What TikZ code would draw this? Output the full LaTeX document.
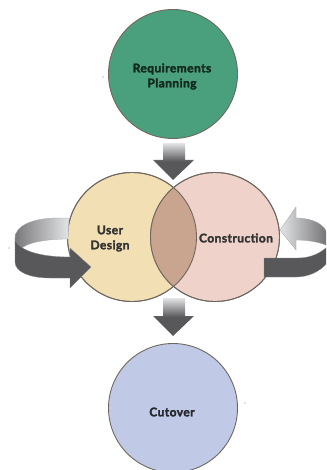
\documentclass[tikz,border=0pt]{standalone}
\usepackage{fontspec}
\setmainfont[LetterSpace=3.5,BoldFeatures={FakeBold=2.2,LetterSpace=3.5}]{Lato}
\definecolor{greenc}{HTML}{4AA07D}
\definecolor{yellowc}{HTML}{F3DFB4}
\definecolor{pinkc}{HTML}{EFD3CA}
\definecolor{bluec}{HTML}{C0CAE6}
\definecolor{lensc}{HTML}{C9A58F}
\definecolor{rimc}{HTML}{6E6860}
\definecolor{darkc}{HTML}{58585B}
\definecolor{lightc}{HTML}{E4E5E7}
\tikzset{
  phase/.style={circle,draw=rimc,line width=0.9pt,inner sep=0pt,minimum size=129pt,align=center},
  label/.style={font=\bfseries\fontsize{12pt}{15pt}\selectfont,align=center,text=#1},
  label/.default={black!80},
  downarrow/.style={top color=lightc,bottom color=darkc,middle color=darkc},
  solidarrow/.style={fill=darkc,draw=black!45,line width=0.3pt},
  speck/.style={fill=black!50,circle,inner sep=0.5pt}
}
\begin{document}
\begin{tikzpicture}[x=1pt,y=-1pt]
\useasboundingbox (0,0) rectangle (326,470);
\fill[white] (0,0) rectangle (326,470);
\begin{scope}
\clip (0,0) rectangle (326,470);
% circles
\node[phase,fill=greenc] (req) at (173,74) {};
\node[phase,fill=yellowc] (ud) at (132,237) {};
\node[phase,fill=pinkc] (con) at (215,237) {};
\begin{scope}
  \clip (132,237) circle (64.5);
  \fill[lensc] (215,237) circle (64.5);
\end{scope}
\draw[rimc,line width=0.9pt] (132,237) circle (64.5);
\draw[rimc,line width=0.9pt] (215,237) circle (64.5);
\node[phase,fill=bluec] (cut) at (173,408) {};
% vertical arrows
\path[downarrow] (163,143) -- (185,143) -- (185,160) -- (194,160) -- (173,180) -- (153,160) -- (163,160) -- cycle;
\path[downarrow] (163,298) -- (185,298) -- (185,316) -- (194,316) -- (173,336) -- (153,316) -- (163,316) -- cycle;
% left loop
\path[left color=darkc!80,right color=lightc,draw=black!35,line width=0.3pt]
  (69,218) -- (58,218) .. controls (32,218) and (15,226) .. (15,238)
  -- (15,245) .. controls (15,247) and (18,249) .. (21,249)
  .. controls (26,243) and (45,239) .. (68,239) -- cycle;
\path[solidarrow]
  (15,238) .. controls (15,246) and (30,257) .. (70,257) -- (70,248) -- (91,267) -- (70,288) -- (70,278)
  -- (50,278) .. controls (30,278) and (15,272) .. (15,262) -- cycle;
% right loop
\path[left color=lightc,right color=darkc!85,draw=black!35,line width=0.3pt]
  (280,230) -- (296,207) -- (296,218) .. controls (312,218) and (326,224) .. (328,236)
  -- (328,246) .. controls (322,243) and (310,240) .. (296,240) -- (296,250) -- cycle;
\path[solidarrow]
  (264,258) -- (298,258) .. controls (312,258) and (322,252) .. (328,246)
  -- (328,262) .. controls (320,272) and (308,277) .. (296,277) -- (264,277) -- cycle;
\end{scope}
% labels
\node[label={black!75!greenc}] (reqt) at (172,76.5) {Requirements\\Planning};
\node[label] (udt) at (110,238.5) {User\\Design};
\node[label] (cont) at (236,238) {Construction};
\node[label={black!80!bluec}] (cutt) at (172,412) {Cutover};
% specks
\node[speck] (s1) at (103,77) {};
\node[speck] (s2) at (9,248) {};
\node[speck] (s3) at (245,403) {};
\end{tikzpicture}
\end{document}
